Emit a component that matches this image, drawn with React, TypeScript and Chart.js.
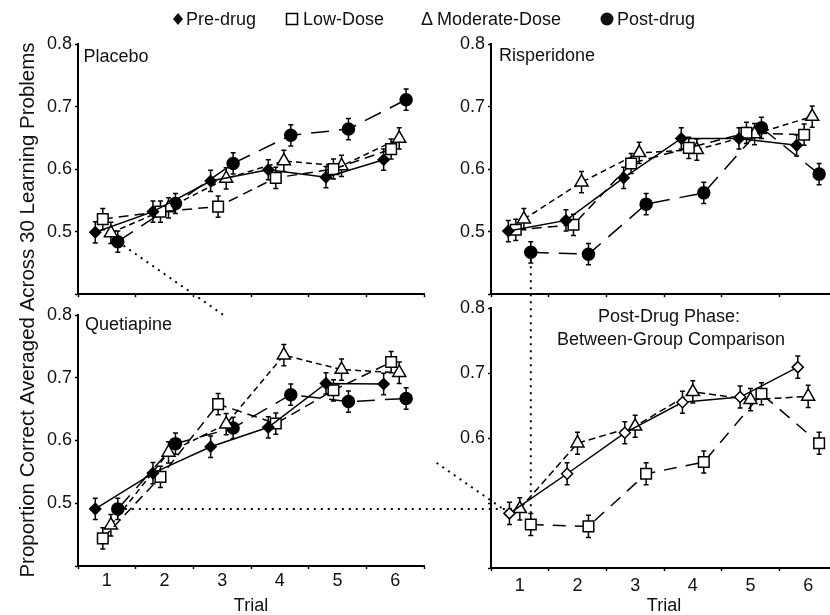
import React, { useEffect, useRef } from "react";
import { Chart, registerables } from "chart.js";
Chart.register(...registerables);

const FONT = '"Liberation Sans", Arial, Helvetica, sans-serif';
Chart.defaults.font.family = FONT;

// ---------- data ----------
const TRIALS = [1, 2, 3, 4, 5, 6];
const Y_MIN = 0.4;
const Y_MAX = 0.8;
const Y_STEP = 0.1;
const Y_TITLE = "Proportion Correct Averaged Across 30 Learning Problems";
const X_TITLE = "Trial";
const LEGEND_LABELS = ["Pre-drug", "Low-Dose", "Moderate-Dose", "Post-drug"];

// Placebo
const placeboPre = [0.499, 0.532, 0.581, 0.599, 0.587, 0.615];
const placeboLow = [0.52, 0.532, 0.54, 0.586, 0.6, 0.632];
const placeboMod = [0.498, 0.538, 0.585, 0.613, 0.605, 0.649];
const placeboPost = [0.484, 0.545, 0.609, 0.654, 0.664, 0.711];
const placeboPreErr = [0.017, 0.017, 0.017, 0.016, 0.017, 0.017];
const placeboLowErr = [0.017, 0.017, 0.017, 0.017, 0.016, 0.016];
const placeboModErr = [0.017, 0.016, 0.017, 0.017, 0.017, 0.017];
const placeboPostErr = [0.017, 0.016, 0.017, 0.017, 0.017, 0.017];

// Risperidone
const risPre = [0.501, 0.518, 0.586, 0.649, 0.649, 0.638];
const risLow = [0.503, 0.511, 0.609, 0.634, 0.658, 0.655];
const risMod = [0.52, 0.579, 0.626, 0.631, 0.656, 0.684];
const risPost = [0.467, 0.464, 0.544, 0.562, 0.666, 0.592];
const risPreErr = [0.017, 0.017, 0.017, 0.017, 0.017, 0.017];
const risLowErr = [0.017, 0.017, 0.016, 0.017, 0.017, 0.017];
const risModErr = [0.017, 0.017, 0.017, 0.017, 0.017, 0.017];
const risPostErr = [0.017, 0.017, 0.017, 0.017, 0.017, 0.017];

// Quetiapine
const quePre = [0.491, 0.548, 0.59, 0.621, 0.691, 0.69];
const queLow = [0.444, 0.542, 0.658, 0.627, 0.68, 0.725];
const queMod = [0.465, 0.581, 0.626, 0.736, 0.713, 0.708];
const quePost = [0.491, 0.595, 0.62, 0.673, 0.662, 0.667];
const quePreErr = [0.017, 0.017, 0.017, 0.017, 0.017, 0.017];
const queLowErr = [0.017, 0.017, 0.017, 0.017, 0.017, 0.017];
const queModErr = [0.017, 0.017, 0.017, 0.017, 0.017, 0.017];
const quePostErr = [0.017, 0.017, 0.017, 0.017, 0.017, 0.017];

// Post-drug phase: between-group comparison
const postPlacebo = [0.484, 0.545, 0.608, 0.655, 0.663, 0.709];
const postQue = [0.491, 0.592, 0.618, 0.671, 0.659, 0.664];
const postRis = [0.467, 0.464, 0.545, 0.563, 0.668, 0.592];
const postPlaceboErr = [0.017, 0.017, 0.017, 0.017, 0.017, 0.017];
const postQueErr = [0.017, 0.017, 0.017, 0.017, 0.017, 0.017];
const postRisErr = [0.017, 0.017, 0.017, 0.017, 0.017, 0.017];

// ---------- styles ----------
const STYLES: any = {
  pre: { pointStyle: "rectRot", radius: 5.5, fill: "#000", dash: [], offset: -0.2 },
  low: { pointStyle: "rect", radius: 7.5, fill: "#fff", dash: [10, 6], offset: -0.07 },
  mod: { pointStyle: "triangle", radius: 7.5, fill: "#fff", dash: [6, 4], offset: 0.07 },
  post: { pointStyle: "circle", radius: 6, fill: "#000", dash: [18, 10], offset: 0.19 },
  brPlacebo: { pointStyle: "rectRot", radius: 5.5, fill: "#fff", dash: [], offset: -0.18 },
  brQue: { pointStyle: "triangle", radius: 7.5, fill: "#fff", dash: [7, 4], offset: 0 },
  brRis: { pointStyle: "rect", radius: 7.5, fill: "#fff", dash: [13, 9], offset: 0.19 },
};

const YW = 60;
const PT = 14;
const PR = 6;

const PANELS: any[] = [
  {
    area: { l: 78, t: 44, r: 427, b: 296 }, xLabels: false, hide: [0.4], xh: 12, xPad: 0,
    titles: [{ text: "Placebo", dx: 5.5, dy: 17.5, align: "left" }],
    series: [
      { name: "Pre-drug", values: placeboPre, errors: placeboPreErr, style: "pre" },
      { name: "Low-Dose", values: placeboLow, errors: placeboLowErr, style: "low" },
      { name: "Moderate-Dose", values: placeboMod, errors: placeboModErr, style: "mod" },
      { name: "Post-drug", values: placeboPost, errors: placeboPostErr, style: "post" },
    ],
  },
  {
    area: { l: 491, t: 44, r: 840, b: 296 }, xLabels: false, hide: [0.4], xh: 12, xPad: 0,
    titles: [{ text: "Risperidone", dx: 8, dy: 17, align: "left" }],
    series: [
      { name: "Pre-drug", values: risPre, errors: risPreErr, style: "pre" },
      { name: "Low-Dose", values: risLow, errors: risLowErr, style: "low" },
      { name: "Moderate-Dose", values: risMod, errors: risModErr, style: "mod" },
      { name: "Post-drug", values: risPost, errors: risPostErr, style: "post" },
    ],
  },
  {
    area: { l: 78, t: 315, r: 427, b: 566 }, xLabels: true, hide: [0.4], xh: 51, xPad: 1,
    titles: [{ text: "Quetiapine", dx: 7, dy: 14.5, align: "left" }],
    series: [
      { name: "Pre-drug", values: quePre, errors: quePreErr, style: "pre" },
      { name: "Low-Dose", values: queLow, errors: queLowErr, style: "low" },
      { name: "Moderate-Dose", values: queMod, errors: queModErr, style: "mod" },
      { name: "Post-drug", values: quePost, errors: quePostErr, style: "post" },
    ],
  },
  {
    area: { l: 491, t: 308, r: 840, b: 568 }, xLabels: true, hide: [0.4, 0.5], xh: 49, xPad: 4,
    titles: [
      { text: "Post-Drug Phase:", cx: 669, dy: 14, align: "center" },
      { text: "Between-Group Comparison", cx: 671, dy: 36.5, align: "center" },
    ],
    series: [
      { name: "Placebo", values: postPlacebo, errors: postPlaceboErr, style: "brPlacebo" },
      { name: "Quetiapine", values: postQue, errors: postQueErr, style: "brQue" },
      { name: "Risperidone", values: postRis, errors: postRisErr, style: "brRis" },
    ],
  },
];

function geom(p: any) {
  const left = p.area.l - YW;
  const top = p.area.t - PT;
  const w = YW + (p.area.r - p.area.l) + PR;
  const h = PT + (p.area.b - p.area.t) + p.xh;
  return { left, top, w, h };
}

const errorBarPlugin = {
  id: "errorBars",
  beforeDatasetsDraw(chart: any) {
    const { ctx } = chart;
    const xs = chart.scales.x;
    const ys = chart.scales.y;
    ctx.save();
    ctx.strokeStyle = "#000";
    ctx.lineWidth = 1.5;
    ctx.setLineDash([]);
    chart.data.datasets.forEach((ds: any) => {
      ds.data.forEach((pt: any, i: number) => {
        const e = ds.errors[i];
        const x = xs.getPixelForValue(pt.x);
        const y1 = ys.getPixelForValue(pt.y + e);
        const y2 = ys.getPixelForValue(pt.y - e);
        ctx.beginPath();
        ctx.moveTo(x, y1);
        ctx.lineTo(x, y2);
        ctx.moveTo(x - 2.5, y1);
        ctx.lineTo(x + 2.5, y1);
        ctx.moveTo(x - 2.5, y2);
        ctx.lineTo(x + 2.5, y2);
        ctx.stroke();
      });
    });
    ctx.restore();
  },
};

function makeChart(canvas: HTMLCanvasElement, p: any) {
  const datasets = p.series.map((s: any) => {
    const st = STYLES[s.style];
    return {
      label: s.name,
      data: TRIALS.map((t, i) => ({ x: t + st.offset, y: s.values[i] })),
      errors: s.errors,
      borderColor: "#000",
      borderWidth: 1.5,
      borderDash: st.dash,
      pointStyle: st.pointStyle,
      pointRadius: st.radius,
      pointBackgroundColor: st.fill,
      pointBorderColor: "#000",
      pointBorderWidth: 1.5,
      fill: false,
      tension: 0,
      clip: false,
    };
  });
  const isHidden = (v: number) => p.hide.some((h: number) => Math.abs(h - v) < 1e-6);
  return new Chart(canvas, {
    type: "line",
    data: { datasets },
    options: {
      responsive: false,
      animation: false,
      devicePixelRatio: 1,
      layout: { padding: { top: PT, right: PR, left: 0, bottom: 0 } },
      plugins: { legend: { display: false }, tooltip: { enabled: false } },
      scales: {
        x: {
          type: "linear",
          min: 0.5,
          max: 6.5,
          ticks: {
            stepSize: 0.5,
            autoSkip: false,
            maxRotation: 0,
            padding: p.xPad,
            font: { size: 18 },
            color: "#111",
            callback: (v: any) => (p.xLabels && Number.isInteger(v) ? String(v) : ""),
          },
          grid: {
            drawOnChartArea: false,
            drawTicks: true,
            tickLength: 3,
            tickWidth: 1.5,
            tickColor: (ctx: any) =>
              ctx.tick && Number.isInteger(ctx.tick.value) ? "rgba(0,0,0,0)" : "#000",
          },
          border: { display: true, color: "#000", width: 2 },
          title: {
            display: p.xLabels,
            text: X_TITLE,
            font: { size: 18 },
            color: "#111",
            padding: { top: 0, bottom: 0 },
          },
          afterFit: (s: any) => {
            s.height = p.xh;
          },
        },
        y: {
          type: "linear",
          min: Y_MIN,
          max: Y_MAX,
          ticks: {
            stepSize: Y_STEP,
            padding: 3,
            font: { size: 18 },
            color: "#111",
            callback: (v: any) => (isHidden(v) ? "" : Number(v).toFixed(1)),
          },
          grid: { drawOnChartArea: false, tickLength: 3, tickWidth: 1.5, tickColor: "#000" },
          border: { display: true, color: "#000", width: 2 },
          afterFit: (s: any) => {
            s.width = YW;
          },
        },
      },
    } as any,
    plugins: [errorBarPlugin],
  });
}

function drawOverlay(canvas: HTMLCanvasElement, charts: any[]) {
  const ctx = canvas.getContext("2d")!;
  ctx.clearRect(0, 0, canvas.width, canvas.height);
  ctx.fillStyle = "#111";
  ctx.strokeStyle = "#000";

  const G = PANELS.map(geom);
  const px = (ci: number, x: number, y: number) => {
    const c = charts[ci];
    return [G[ci].left + c.scales.x.getPixelForValue(x), G[ci].top + c.scales.y.getPixelForValue(y)];
  };

  // y axis title
  ctx.save();
  ctx.font = `20.5px ${FONT}`;
  ctx.translate(34, 310);
  ctx.rotate(-Math.PI / 2);
  ctx.textAlign = "center";
  ctx.textBaseline = "alphabetic";
  ctx.fillText(Y_TITLE, 0, 0);
  ctx.restore();

  ctx.font = `18px ${FONT}`;
  // panel titles
  PANELS.forEach((p, i) => {
    const c = charts[i];
    const ca = c.chartArea;
    p.titles.forEach((t: any) => {
      ctx.textAlign = t.align;
      ctx.textBaseline = "alphabetic";
      const x = t.align === "center" ? t.cx : G[i].left + ca.left + t.dx;
      ctx.fillText(t.text, x, G[i].top + ca.top + t.dy);
    });
  });

  // legend
  const ly = 19;
  const base = 25;
  ctx.textAlign = "left";
  ctx.lineWidth = 1.5;
  ctx.setLineDash([]);
  ctx.beginPath();
  ctx.moveTo(178, ly - 6);
  ctx.lineTo(183, ly);
  ctx.lineTo(178, ly + 6);
  ctx.lineTo(173, ly);
  ctx.closePath();
  ctx.fill();
  ctx.fillText(LEGEND_LABELS[0], 186, base);
  ctx.strokeRect(286.5, ly - 5.5, 11, 11);
  ctx.fillText(LEGEND_LABELS[1], 303, base);
  ctx.fillText("\u0394", 421, base);
  ctx.fillText(LEGEND_LABELS[2], 437, base);
  ctx.beginPath();
  ctx.arc(607, ly, 6.5, 0, Math.PI * 2);
  ctx.fill();
  ctx.fillText(LEGEND_LABELS[3], 617, base);

  // dotted connectors
  ctx.save();
  ctx.setLineDash([2, 5]);
  ctx.lineWidth = 2;
  ctx.strokeStyle = "#000";
  const a = px(0, 1 + STYLES.post.offset, placeboPost[0]);
  const b = px(3, 1 + STYLES.brPlacebo.offset, postPlacebo[0]);
  const lerp = (t: number) => [a[0] + (b[0] - a[0]) * t, a[1] + (b[1] - a[1]) * t];
  const s1 = lerp(0.277);
  const s2 = lerp(0.814);
  ctx.beginPath();
  ctx.moveTo(a[0], a[1]);
  ctx.lineTo(s1[0], s1[1]);
  ctx.stroke();
  ctx.beginPath();
  ctx.moveTo(s2[0], s2[1]);
  ctx.lineTo(b[0], b[1]);
  ctx.stroke();
  const c1 = px(2, 1 + STYLES.post.offset, quePost[0]);
  const c2 = px(3, 1 + STYLES.brQue.offset, postQue[0]);
  ctx.beginPath();
  ctx.moveTo(c1[0], c1[1]);
  ctx.lineTo(c2[0], c1[1]);
  ctx.stroke();
  const d1 = px(1, 1 + STYLES.post.offset, risPost[0]);
  const d2 = px(3, 1 + STYLES.brRis.offset, postRis[0]);
  ctx.beginPath();
  ctx.moveTo(d1[0], d1[1]);
  ctx.lineTo(d1[0], d2[1]);
  ctx.stroke();
  ctx.restore();
}

export default function App() {
  const overlayRef = useRef<HTMLCanvasElement>(null);
  const r0 = useRef<HTMLCanvasElement>(null);
  const r1 = useRef<HTMLCanvasElement>(null);
  const r2 = useRef<HTMLCanvasElement>(null);
  const r3 = useRef<HTMLCanvasElement>(null);
  const refs = [r0, r1, r2, r3];

  useEffect(() => {
    const charts = PANELS.map((p, i) => makeChart(refs[i].current!, p));
    if (overlayRef.current) drawOverlay(overlayRef.current, charts);
    return () => charts.forEach((c) => c.destroy());
  }, []);

  return (
    <div
      style={{
        position: "fixed",
        left: 0,
        top: 0,
        width: 830,
        height: 615,
        overflow: "hidden",
        background: "#fff",
      }}
    >
      <canvas
        ref={overlayRef}
        width={830}
        height={615}
        style={{ position: "absolute", left: 0, top: 0, width: 830, height: 615 }}
      />
      {PANELS.map((p, i) => {
        const g = geom(p);
        return (
          <canvas
            key={i}
            ref={refs[i]}
            width={g.w}
            height={g.h}
            style={{ position: "absolute", left: g.left, top: g.top, width: g.w, height: g.h }}
          />
        );
      })}
    </div>
  );
}
